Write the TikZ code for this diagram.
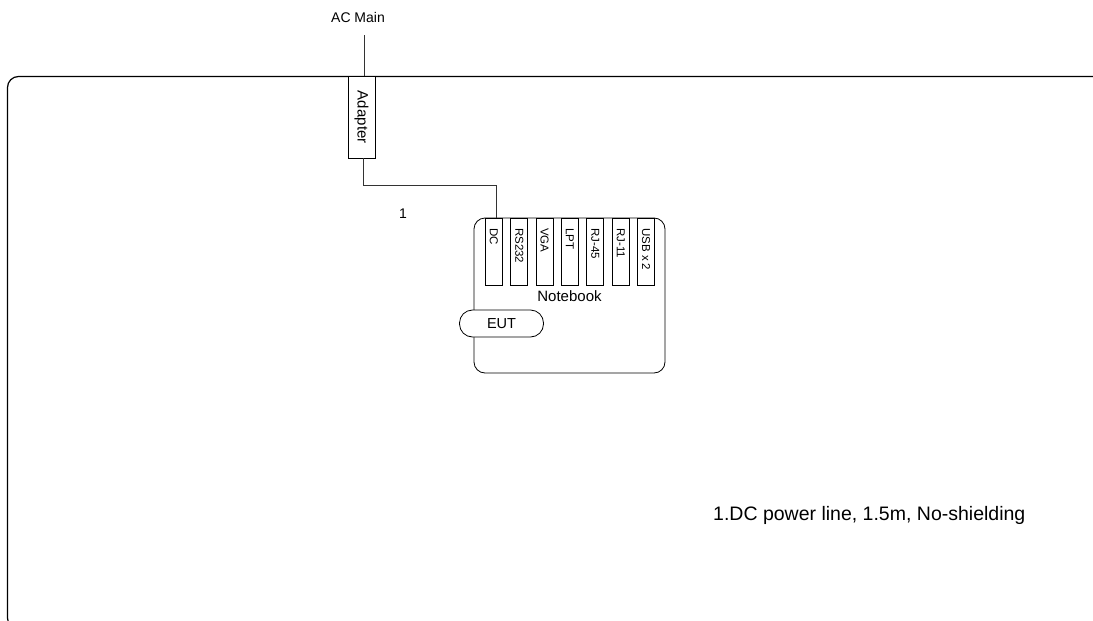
\documentclass[tikz,border=0pt]{standalone}
\usepackage{fontspec}
\setmainfont{Liberation Sans}
\begin{document}
\begin{tikzpicture}[x=1pt,y=-1pt,
  frame/.style={draw=black,line width=1.2pt,rounded corners=11pt},
  box/.style={draw=black,line width=0.8pt,fill=white},
  wire/.style={draw=black!80,line width=0.8pt},
  port/.style={draw=black,line width=0.8pt,minimum width=17pt,minimum height=67pt,inner sep=0pt,anchor=north west},
  plabel/.style={rotate=-90,anchor=west,inner sep=0pt,font=\fontsize{11.5}{12}\selectfont},
  lbl/.style={inner sep=0pt,font=\fontsize{14}{16}\selectfont}]
\useasboundingbox (0,0) rectangle (1093,621);
\begin{scope}
\clip (0,0) rectangle (1093,621);
\draw[frame] (7.5,76.5) rectangle (1120,629);
\end{scope}
% AC main
\node[lbl] (ac) at (358,17) {AC Main};
\coordinate (acend) at (364,35);
% adapter
\node[box,minimum width=27pt,minimum height=81.5pt,inner sep=0pt] (adapter) at (361.5,117.25) {};
\node[rotate=-90,inner sep=0pt,font=\fontsize{15}{16}\selectfont] (adlabel) at (adapter.center) {Adapter};
\draw[wire] (acend) -- (acend |- adapter.north);
% notebook
\draw[box,rounded corners=11pt] (474,218) rectangle (665,373);
\coordinate (nbnw) at (474,218);
\foreach \n/\t [count=\i from 0] in {dc/DC,rs/RS232,vga/VGA,lpt/LPT,rj45/RJ-45,rj11/RJ-11,usb/USB x 2}{
  \node[port] (\n) at ({485+25.35*\i},218) {};
  \node[plabel] (\n lab) at ([yshift=-10pt]\n.north) {\t};
}
\node[lbl,font=\fontsize{15}{16}\selectfont] (nb) at (569.5,296) {Notebook};
\node[draw=black,line width=0.8pt,fill=white,rounded corners=13pt,minimum width=84pt,minimum height=27pt,inner sep=0pt,font=\fontsize{14.5}{16}\selectfont] (eut) at (501.5,323.5) {EUT};
% cable
\coordinate (c1) at (363,185);
\coordinate (c2) at (496,185);
\draw[wire] (adapter.south -| c1) -- (c1) -- (c2) -- (c2 |- dc.north);
\node[lbl] (one) at (403,214) {1};
% note
\node[inner sep=0pt,anchor=west,font=\fontsize{19.5}{22}\selectfont] (note) at (713,515) {1.DC power line, 1.5m, No-shielding};
\end{tikzpicture}
\end{document}
